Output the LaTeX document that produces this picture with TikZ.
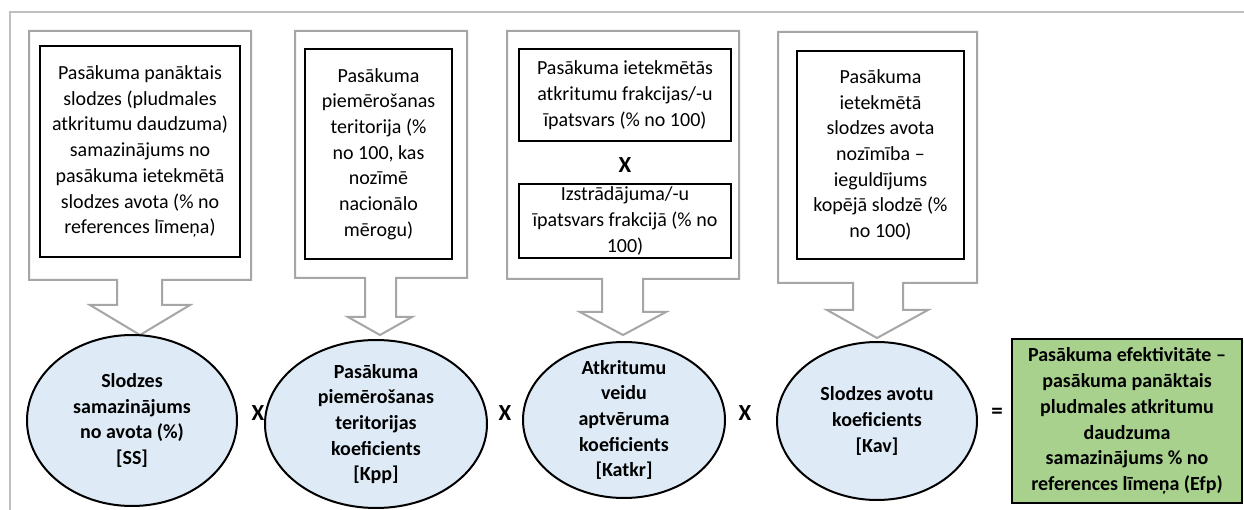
\documentclass[tikz,border=0pt]{standalone}
\usepackage{fontspec}
\setmainfont{Carlito}
\usetikzlibrary{shapes.geometric}
\definecolor{calloutgray}{RGB}{166,166,166}
\definecolor{framegray}{RGB}{191,191,191}
\definecolor{ovalblue}{RGB}{222,235,247}
\definecolor{resultgreen}{RGB}{169,209,142}

\begin{document}
\begin{tikzpicture}[
        x=1pt, y=-1pt,
        every node/.style={align=center, font=\fontsize{20}{25.7}\selectfont},
        callout/.style={draw=calloutgray, line width=2pt, fill=white, line join=miter},
        srcbox/.style={draw=black, line width=2pt, inner sep=0pt},
        factor/.style={ellipse, draw=black, line width=2pt, fill=ovalblue, inner sep=0pt},
        factortext/.style={font=\fontsize{20}{25.7}\selectfont\bfseries},
        result/.style={draw=black, line width=2pt, fill=resultgreen, inner sep=0pt,
            font=\fontsize{20}{25.7}\selectfont\bfseries},
        op/.style={font=\fontsize{23}{26}\selectfont\bfseries},
    ]
    \fill[white] (0,0) rectangle (1244,510);
    \useasboundingbox (0,0) rectangle (1244,510);
    % outer frame
    \draw[framegray, line width=2pt] (1244,12) -- (10,12) -- (10,510);

    % down arrow callouts
    \draw[callout] (29,31) -- (251,31) -- (251,280) -- (162,280) -- (162,305) -- (190,305)
        -- (140,335) -- (90,305) -- (117,305) -- (117,280) -- (29,280) -- cycle;
    \draw[callout] (295,31) -- (467,31) -- (467,278) -- (396,278) -- (396,317) -- (412,317)
        -- (380,335) -- (348,317) -- (365,317) -- (365,278) -- (295,278) -- cycle;
    \draw[callout] (507,31) -- (739,31) -- (739,279) -- (643,279) -- (643,312) -- (666,312)
        -- (623,335) -- (580,312) -- (602,312) -- (602,279) -- (507,279) -- cycle;
    \draw[callout] (778,32) -- (977,32) -- (977,283) -- (903,283) -- (903,310) -- (928,310)
        -- (877,338) -- (827,310) -- (853,310) -- (853,283) -- (778,283) -- cycle;

    % input boxes
    \node[srcbox, minimum width=200pt, minimum height=211pt] (panakts) at (140,151.5)
        {Pasākuma panāktais\\slodzes (pludmales\\atkritumu daudzuma)\\samazinājums no\\pasākuma ietekmētā\\slodzes avota (\% no\\references līmeņa)};
    \node[srcbox, minimum width=147pt, minimum height=210pt] (teritorija) at (378.5,154)
        {Pasākuma\\piemērošanas\\teritorija (\%\\no 100, kas\\nozīmē\\nacionālo\\mērogu)};
    \node[srcbox, minimum width=212pt, minimum height=92pt] (frakcija) at (625,95)
        {Pasākuma ietekmētās\\atkritumu frakcijas/-u\\īpatsvars (\% no 100)};
    \node[op] (reiz0) at (625,165) {X};
    \node[srcbox, minimum width=212pt, minimum height=74pt] (izstradajums) at (625,221)
        {Izstrādājuma/-u\\īpatsvars frakcijā (\% no\\100)};
    \node[srcbox, minimum width=167pt, minimum height=208pt] (avots) at (880.5,155)
        {Pasākuma\\ietekmētā\\slodzes avota\\nozīmība –\\ieguldījums\\kopējā slodzē (\%\\no 100)};

    % factors
    \node[factor, minimum width=210pt, minimum height=171pt,
        label={[factortext]center:Slodzes\\samazinājums\\no avota (\%)\\{}[SS]}] (ss) at (132,420.5) {};
    \node[op] (reiz1) at (258,413) {X};
    \node[factor, minimum width=222pt, minimum height=168pt,
        label={[factortext]center:Pasākuma\\piemērošanas\\teritorijas\\koeficients\\{}[Kpp]}] (kpp) at (376,424) {};
    \node[op] (reiz2) at (505,413) {X};
    \node[factor, minimum width=202pt, minimum height=156pt,
        label={[factortext]center:Atkritumu\\veidu\\aptvēruma\\koeficients\\{}[Katkr]}] (katkr) at (624,420) {};
    \node[op] (reiz3) at (745,413) {X};
    \node[factor, minimum width=200pt, minimum height=158pt,
        label={[factortext]center:Slodzes avotu\\koeficients\\{}[Kav]}] (kav) at (877,421) {};
    \node[op] (vienad) at (997,413) {=};
    \node[result, minimum width=230pt, minimum height=164pt] (efp) at (1127,421)
        {Pasākuma efektivitāte –\\pasākuma panāktais\\pludmales atkritumu\\daudzuma\\samazinājums \% no\\references līmeņa (Efp)};
\end{tikzpicture}
\end{document}
